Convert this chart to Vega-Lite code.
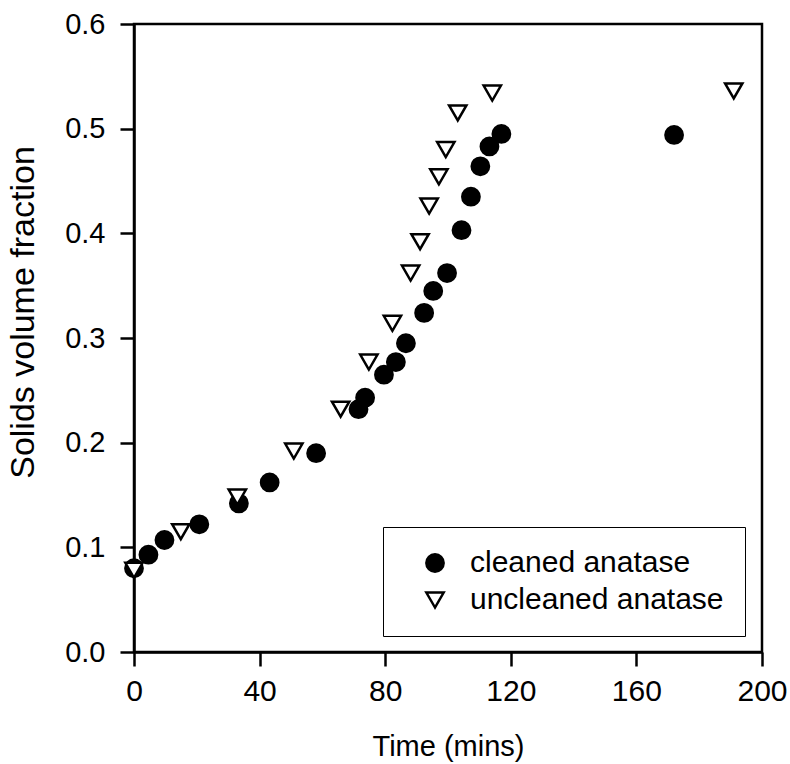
{
  "$schema": "https://vega.github.io/schema/vega-lite/v6.json",
  "width": 628,
  "height": 628,
  "autosize": "none",
  "padding": {"left": 134, "top": 24, "right": 28, "bottom": 112},
  "background": "white",
  "config": {
    "font": "Liberation Sans",
    "view": {"stroke": "black", "strokeWidth": 2.5},
    "legend": {
      "strokeColor": "black", "fillColor": "white",
      "padding": 21, "symbolOffset": 16, "labelOffset": 20, "rowPadding": 7,
      "labelFont": "Liberation Sans", "labelFontSize": 30, "labelColor": "black",
      "symbolSize": 300, "symbolStrokeWidth": 2.5, "symbolStrokeColor": "black",
      "symbolOpacity": 1, "labelLimit": 400
    }
  },
  "data": {
    "values": [
      {"t": 0, "v": 0.080, "series": "cleaned anatase"},
      {"t": 4.6, "v": 0.093, "series": "cleaned anatase"},
      {"t": 9.7, "v": 0.107, "series": "cleaned anatase"},
      {"t": 20.8, "v": 0.122, "series": "cleaned anatase"},
      {"t": 33.4, "v": 0.142, "series": "cleaned anatase"},
      {"t": 43.2, "v": 0.162, "series": "cleaned anatase"},
      {"t": 58.0, "v": 0.190, "series": "cleaned anatase"},
      {"t": 71.5, "v": 0.232, "series": "cleaned anatase"},
      {"t": 73.6, "v": 0.243, "series": "cleaned anatase"},
      {"t": 79.6, "v": 0.265, "series": "cleaned anatase"},
      {"t": 83.4, "v": 0.277, "series": "cleaned anatase"},
      {"t": 86.6, "v": 0.295, "series": "cleaned anatase"},
      {"t": 92.4, "v": 0.324, "series": "cleaned anatase"},
      {"t": 95.3, "v": 0.345, "series": "cleaned anatase"},
      {"t": 99.7, "v": 0.362, "series": "cleaned anatase"},
      {"t": 104.3, "v": 0.403, "series": "cleaned anatase"},
      {"t": 107.3, "v": 0.435, "series": "cleaned anatase"},
      {"t": 110.3, "v": 0.464, "series": "cleaned anatase"},
      {"t": 113.2, "v": 0.483, "series": "cleaned anatase"},
      {"t": 117.0, "v": 0.495, "series": "cleaned anatase"},
      {"t": 172.0, "v": 0.494, "series": "cleaned anatase"},
      {"t": 0, "v": 0.078, "series": "uncleaned anatase"},
      {"t": 14.9, "v": 0.115, "series": "uncleaned anatase"},
      {"t": 32.9, "v": 0.148, "series": "uncleaned anatase"},
      {"t": 50.9, "v": 0.192, "series": "uncleaned anatase"},
      {"t": 65.8, "v": 0.232, "series": "uncleaned anatase"},
      {"t": 74.8, "v": 0.277, "series": "uncleaned anatase"},
      {"t": 82.3, "v": 0.314, "series": "uncleaned anatase"},
      {"t": 88.1, "v": 0.362, "series": "uncleaned anatase"},
      {"t": 91.1, "v": 0.392, "series": "uncleaned anatase"},
      {"t": 94.0, "v": 0.426, "series": "uncleaned anatase"},
      {"t": 97.1, "v": 0.454, "series": "uncleaned anatase"},
      {"t": 99.3, "v": 0.480, "series": "uncleaned anatase"},
      {"t": 103.1, "v": 0.515, "series": "uncleaned anatase"},
      {"t": 114.1, "v": 0.534, "series": "uncleaned anatase"},
      {"t": 191.0, "v": 0.536, "series": "uncleaned anatase"}
    ]
  },
  "mark": {"type": "point", "filled": true, "stroke": "black", "strokeWidth": 2.5, "size": 300, "opacity": 1},
  "encoding": {
    "x": {
      "field": "t", "type": "quantitative",
      "scale": {"domain": [0, 200], "nice": false, "zero": false},
      "axis": {
        "title": "Time (mins)", "values": [0, 40, 80, 120, 160, 200], "format": "d",
        "grid": false, "domainColor": "black", "domainWidth": 2.5,
        "tickColor": "black", "tickWidth": 2.5, "tickSize": 14,
        "labelFont": "Liberation Sans", "labelFontSize": 30, "labelColor": "black", "labelPadding": 10,
        "labelFlush": false,
        "titleFont": "Liberation Sans", "titleFontSize": 29, "titleFontWeight": "normal", "titleColor": "black",
        "titleX": 314, "titleY": 94, "titleBaseline": "middle", "titleAlign": "center"
      }
    },
    "y": {
      "field": "v", "type": "quantitative",
      "scale": {"domain": [0, 0.6], "nice": false, "zero": false},
      "axis": {
        "title": "Solids volume fraction", "values": [0, 0.1, 0.2, 0.3, 0.4, 0.5, 0.6], "format": ".1f",
        "grid": false, "domainColor": "black", "domainWidth": 2.5,
        "tickColor": "black", "tickWidth": 2.5, "tickSize": 14,
        "labelFont": "Liberation Sans", "labelFontSize": 29, "labelColor": "black", "labelPadding": 15,
        "labelFlush": false,
        "titleFont": "Liberation Sans", "titleFontSize": 34, "titleFontWeight": "normal", "titleColor": "black",
        "titleX": -111, "titleY": 288, "titleBaseline": "middle", "titleAlign": "center", "titleAngle": -90
      }
    },
    "shape": {
      "field": "series", "type": "nominal",
      "scale": {"domain": ["cleaned anatase", "uncleaned anatase"], "range": ["circle", "triangle-down"]},
      "legend": {
        "title": null, "orient": "none", "legendX": 249, "legendY": 503,
        "encode": {"symbols": {"update": {"stroke": {"value": "black"}, "strokeWidth": {"value": 2.5}, "opacity": {"value": 1}}}}
      }
    },
    "fill": {
      "field": "series", "type": "nominal",
      "scale": {"domain": ["cleaned anatase", "uncleaned anatase"], "range": ["black", "white"]},
      "legend": {
        "title": null, "orient": "none", "legendX": 249, "legendY": 503,
        "encode": {"symbols": {"update": {"stroke": {"value": "black"}, "strokeWidth": {"value": 2.5}, "opacity": {"value": 1}}}}
      }
    },
    "stroke": {"value": "black"},
    "opacity": {"value": 1}
  }
}
